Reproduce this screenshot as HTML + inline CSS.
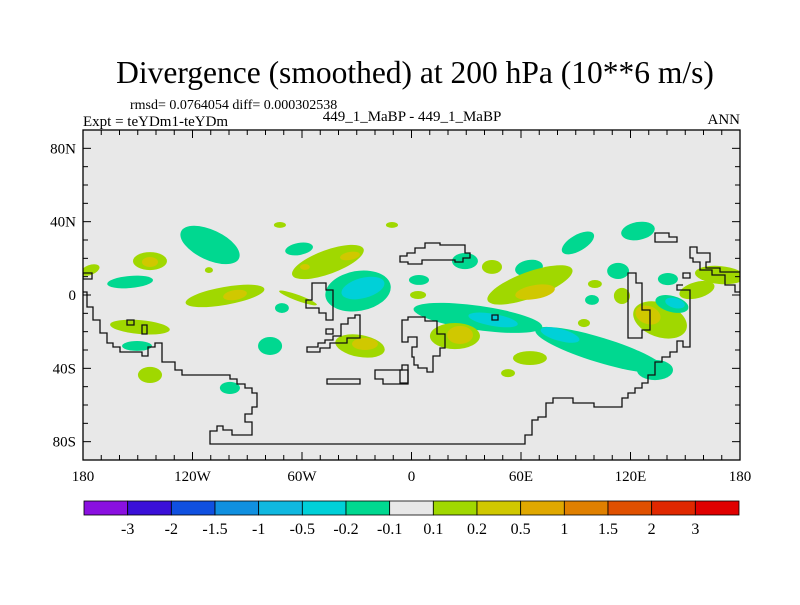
<!DOCTYPE html>
<html><head><meta charset="utf-8"><style>
body{margin:0;background:#fff;}
svg text{font-family:"Liberation Serif",serif;fill:#000;}
</style></head><body>
<svg id="chart" width="800" height="600" viewBox="0 0 800 600" xmlns="http://www.w3.org/2000/svg">
<text x="415" y="83" font-size="31.5" text-anchor="middle">Divergence (smoothed) at 200 hPa (10**6 m/s)</text>
<text x="130" y="109" font-size="14">rmsd= 0.0764054 diff= 0.000302538</text>
<text x="83" y="126" font-size="15">Expt = teYDm1-teYDm</text>
<text x="412" y="121" font-size="15" text-anchor="middle">449_1_MaBP - 449_1_MaBP</text>
<text x="740" y="124" font-size="15" text-anchor="end">ANN</text>
<clipPath id="pc"><rect x="83" y="130" width="657" height="330"/></clipPath>
<rect x="83" y="130" width="657" height="330" fill="#e8e8e8"/>
<g id="blobs" clip-path="url(#pc)"></g>
<g fill="none" stroke="#111" stroke-width="1.3" clip-path="url(#pc)">
<path d="M83,292 L87,292 87,307 93,307 93,320 100,320 100,333 107,333 107,343 113,343 113,347 120,347 120,352 142,352 142,356 148,356 148,347 155,347 155,343 162,343 162,362 175,362 175,370 182,370 182,375 230,375 230,379 237,379 237,384 245,384 245,388 252,388 252,393 257,393 257,407 252,407 252,414 245,414 245,422 252,422 252,435 232,435 232,430 223,430 223,426 217,426 217,431 210,431 210,444 525,444 525,435 532,435 532,420 538,420 538,417 546,417 546,403 553,403 553,398 573,398 573,403 594,403 594,407 622,407 622,398 628,398 628,393 635,393 635,388 642,388 642,383 648,383 648,375 655,375 655,362 662,362 662,357 670,357 670,352 677,352 677,341 683,341 683,347 690,347 690,290 677,290 677,285 683,285"/>
<path d="M312,283 L326,283 326,290 333,290 333,320 326,320 326,313 319,313 319,308 306,308 306,300 312,300Z"/>
<path d="M360,315 L355,315 355,318 348,318 348,324 341,324 341,336 333,336 333,340 325,340 325,343 318,343 318,347 307,347 307,352 320,352 320,348 330,348 330,343 347,343 347,338 360,338Z"/>
<path d="M326,329 h7 v5 h-7Z M327,379 h33 v5 h-33Z M127,320 h7 v5 h-7Z M142,325 h5 v9 h-5Z M83,273 h9 v6 h-9Z M683,273 h7 v5 h-7Z M492,315 h6 v5 h-6Z M400,370 h8 v13 h-8Z"/>
<path d="M375,370 L402,370 402,365 408,365 408,384 383,384 383,379 375,379Z"/>
<path d="M400,256 L407,256 407,253 415,253 415,248 425,248 425,243 440,243 440,245 465,245 465,253 470,253 470,258 463,258 463,262 455,262 455,260 422,260 422,264 408,264 408,262 400,262Z"/>
<path d="M402,320 L408,320 408,317 425,317 425,321 437,321 437,334 445,334 445,348 440,348 440,356 433,356 433,372 427,372 427,368 418,368 418,365 414,365 414,357 412,357 412,347 417,347 417,337 408,337 408,342 402,342Z"/>
<path d="M655,233 L669,233 669,237 677,237 677,242 655,242Z"/>
<path d="M628,273 L636,273 636,283 642,283 642,310 650,310 650,330 642,330 642,338 628,338 628,273Z"/>
<path d="M742,292 L735,292 735,285 725,285 725,275 712,275 712,270 700,270 700,262 693,262 693,258 690,258 690,247 697,247 697,253 710,253 710,262 706,262 706,268 720,268 720,272 742,272"/>
</g>
<rect x="83" y="130" width="657" height="330" fill="none" stroke="#000" stroke-width="1.3"/>
<g id="ticks" stroke="#000" stroke-width="1"></g>
<g id="labels" font-size="15"></g>
<g id="cbar"></g>
</svg>
<script>
const blobLon=[-110.4,-143.3,-143.3,-154.2,-102.2,-96.7,-148.8,-150.4,-143.3,-99.5,-77.5,-72.1,-10.7,-61.6,-45.8,-33.7,-58.4,-29.3,-26.6,-62.2,-71,-28.2,-25.5,-176.2,-111,91.2,124.1,29.3,44.1,64.4,4.1,3.6,64.9,67.7,113.2,100.5,98.9,115.3,140.5,169,156.4,36.4,44.7,103.3,81.4,136.2,129.6,142.7,144.4,23.8,26.6,64.9,52.9,94.5,133.4];
const blobLat=[27.3,18.5,18,7.1,-0.5,0,-17.5,-27.8,-43.6,-50.7,-27.8,38.2,38.2,25.1,18,21.3,15.3,2.2,3.8,-1.6,-7.1,-27.8,-26.7,13.6,13.6,28.4,34.9,18.5,15.3,14.7,8.2,0,5.5,1.6,13.1,6,-2.7,-0.5,8.7,10.9,2.7,-12.5,-13.6,-30,-21.8,-13.6,-10.9,-4.9,-4.4,-22.4,-21.8,-34.4,-42.6,-15.3,-40.9];
const blobW=[17.5,9.3,4.4,12.6,21.9,6.6,16.4,8.2,6.6,5.5,6.6,3.3,3.3,7.7,20.8,5.5,2.7,18.1,12.1,11,3.8,13.7,7.1,5.5,2.2,9.9,9.3,7.1,5.5,7.7,5.5,4.4,24.7,11,6,3.8,3.8,4.4,5.5,13.7,9.9,35.6,13.7,37,11,15.3,7.1,9.3,5.5,13.7,7.1,9.3,3.8,3.3,9.9];
const blobH=[8.2,4.9,2.7,3.3,4.9,2.7,3.8,2.7,4.4,3.3,4.9,1.6,1.6,3.3,6.5,2.2,1.6,10.9,5.5,1.6,2.7,6,3.3,2.7,1.6,4.4,4.9,4.4,3.8,4.4,2.7,2.2,7.1,3.8,4.4,2.2,2.7,4.4,3.3,4.9,4.4,6.6,3.3,6.8,3.3,9.3,4.9,4.4,2.7,7.1,4.9,3.8,2.2,2.2,5.5];
const blobRot=[25,0,0,-5,-10,-10,5,0,0,0,0,0,0,-10,-20,-10,0,-10,-15,20,0,10,0,-20,0,-30,-10,0,0,-10,0,0,-20,-10,0,0,0,0,0,5,-15,8,10,17,15,20,20,15,15,0,0,0,0,0,0];
const blobVal=[-0.15,0.15,0.3,-0.15,0.15,0.3,0.15,-0.15,0.15,-0.15,-0.15,0.15,0.15,-0.15,0.15,0.3,0.3,-0.15,-0.3,0.15,-0.15,0.15,0.3,0.15,0.15,-0.15,-0.15,-0.15,0.15,-0.15,-0.15,0.15,0.15,0.3,-0.15,0.15,-0.15,0.15,-0.15,0.15,0.15,-0.15,-0.3,-0.15,-0.3,0.15,0.3,-0.15,-0.3,0.15,0.3,0.15,0.15,0.15,-0.15];
const levels=[-3,-2,-1.5,-1,-0.5,-0.2,-0.1,0.1,0.2,0.5,1,1.5,2,3];
const colors=["#8a10e0","#3a10d8","#1050e0","#1090e0","#10b8e0","#00d0d8","#00d890","#e8e8e8","#a0d800","#d0c800","#e0a800","#e08000","#e05000","#e02800","#e00000"];
const lonTicks=[-180,-120,-60,0,60,120,180];
const lonTickLabels=["180","120W","60W","0","60E","120E","180"];
const latTicks=[80,40,0,-40,-80];
const latTickLabels=["80N","40N","0","40S","80S"];
const NS="http://www.w3.org/2000/svg";
const X0=83,X1=740,Y0=130,Y1=460;
const xs=lon=>X0+(lon+180)/360*(X1-X0);
const ys=lat=>Y0+(90-lat)/180*(Y1-Y0);
const kx=(X1-X0)/360, ky=(Y1-Y0)/180;
function colorFor(v){let i=0;while(i<levels.length&&v>=levels[i])i++;return colors[i];}
const g=document.getElementById('blobs');
const order=blobVal.map((v,i)=>i).sort((a,b)=>Math.abs(blobVal[a])-Math.abs(blobVal[b]));
order.forEach(i=>{
 const e=document.createElementNS(NS,'ellipse');
 const cx=xs(blobLon[i]),cy=ys(blobLat[i]);
 e.setAttribute('cx',cx);e.setAttribute('cy',cy);
 e.setAttribute('rx',blobW[i]*kx);e.setAttribute('ry',blobH[i]*ky);
 e.setAttribute('transform','rotate('+blobRot[i]+' '+cx+' '+cy+')');
 e.setAttribute('fill',colorFor(blobVal[i]));
 
 
 g.appendChild(e);
});
const tg=document.getElementById('ticks');
function line(x1,y1,x2,y2){const l=document.createElementNS(NS,'line');l.setAttribute('x1',x1);l.setAttribute('y1',y1);l.setAttribute('x2',x2);l.setAttribute('y2',y2);tg.appendChild(l);}
for(let lon=-180;lon<=180;lon+=10){const x=xs(lon),L=lon%60===0?8:5;line(x,Y1,x,Y1-L);line(x,Y0,x,Y0+L);}
for(let lat=-90;lat<=90;lat+=10){const y=ys(lat),L=(lat%40===0)?8:5;line(X0,y,X0+L,y);line(X1,y,X1-L,y);}
const lg=document.getElementById('labels');
lonTicks.forEach((v,i)=>{const t=document.createElementNS(NS,'text');t.setAttribute('x',xs(v));t.setAttribute('y',481);t.setAttribute('text-anchor','middle');t.textContent=lonTickLabels[i];


lg.appendChild(t);});
latTicks.forEach((v,i)=>{const t=document.createElementNS(NS,'text');t.setAttribute('x',76);t.setAttribute('y',ys(v)+5);t.setAttribute('text-anchor','end');t.textContent=latTickLabels[i];


lg.appendChild(t);});
const cb=document.getElementById('cbar');
const cbX=84,cbW=655,cbY=501,cbH=14,bw=cbW/colors.length;
colors.forEach((c,i)=>{const r=document.createElementNS(NS,'rect');r.setAttribute('x',cbX+i*bw);r.setAttribute('y',cbY);r.setAttribute('width',bw);r.setAttribute('height',cbH);r.setAttribute('fill',c);r.setAttribute('stroke','#000');r.setAttribute('stroke-width','0.8');


cb.appendChild(r);});
levels.forEach((v,i)=>{const t=document.createElementNS(NS,'text');t.setAttribute('x',cbX+(i+1)*bw);t.setAttribute('y',cbY+cbH+19);t.setAttribute('text-anchor','middle');t.setAttribute('font-size','16');t.textContent=String(v);


cb.appendChild(t);});
</script>
</body></html>
